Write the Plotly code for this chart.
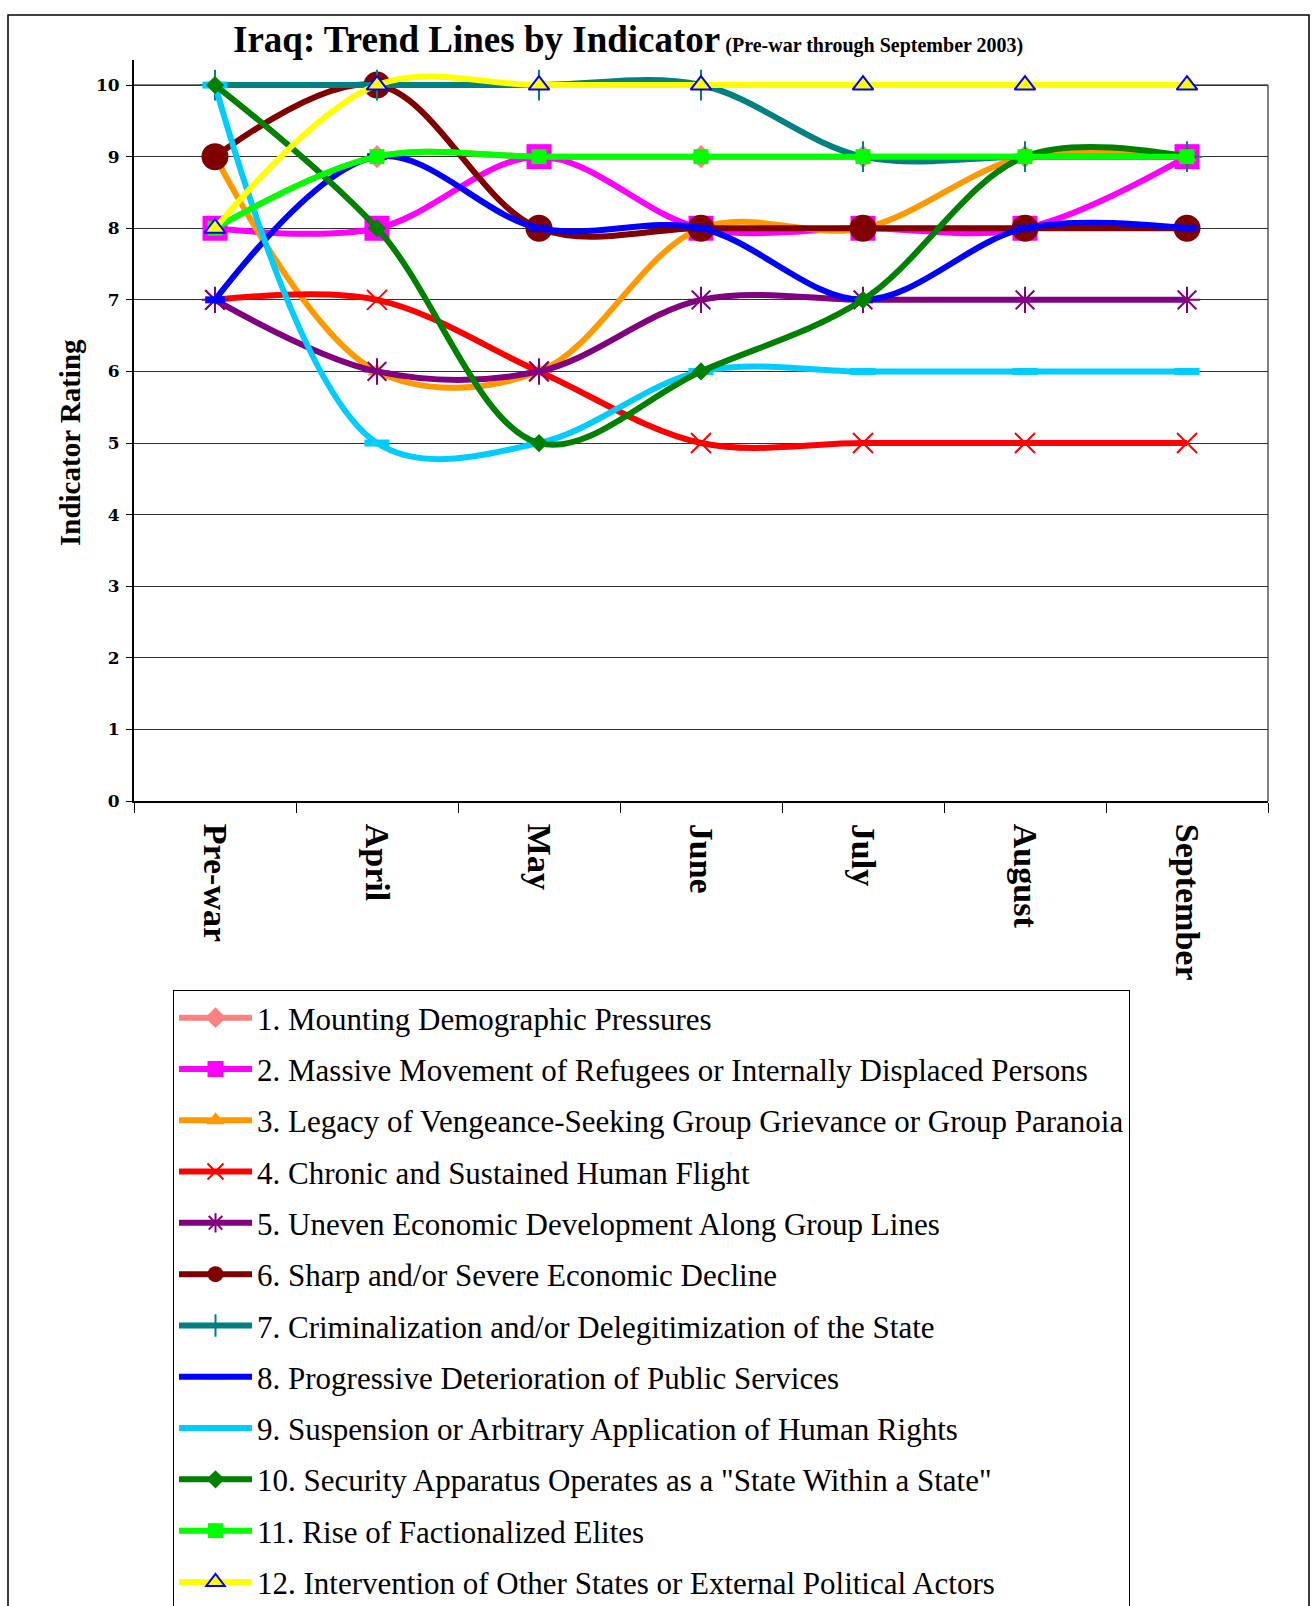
import plotly.graph_objects as go

months = ["Pre-war", "April", "May", "June", "July", "August", "September"]

names = [
    "1. Mounting Demographic Pressures",
    "2. Massive Movement of Refugees or Internally Displaced Persons",
    "3. Legacy of Vengeance-Seeking Group Grievance or Group Paranoia",
    "4. Chronic and Sustained Human Flight",
    "5. Uneven Economic Development Along Group Lines",
    "6. Sharp and/or Severe Economic Decline",
    "7. Criminalization and/or Delegitimization of the State",
    "8. Progressive Deterioration of Public Services",
    "9. Suspension or Arbitrary Application of Human Rights",
    "10. Security Apparatus Operates as a \"State Within a State\"",
    "11. Rise of Factionalized Elites",
    "12. Intervention of Other States or External Political Actors",
]

s1 = [8, 9, 9, 9, 9, 9, 9]
s2 = [8, 8, 9, 8, 8, 8, 9]
s3 = [9, 6, 6, 8, 8, 9, 9]
s4 = [7, 7, 6, 5, 5, 5, 5]
s5 = [7, 6, 6, 7, 7, 7, 7]
s6 = [9, 10, 8, 8, 8, 8, 8]
s7 = [10, 10, 10, 10, 9, 9, 9]
s8 = [7, 9, 8, 8, 7, 8, 8]
s9 = [10, 5, 5, 6, 6, 6, 6]
s10 = [10, 8, 5, 6, 7, 9, 9]
s11 = [8, 9, 9, 9, 9, 9, 9]
s12 = [8, 10, 10, 10, 10, 10, 10]

series = [s1, s2, s3, s4, s5, s6, s7, s8, s9, s10, s11, s12]

colors = ["#FF8080", "#FF00FF", "#FF9900", "#FF0000", "#800080", "#800000",
          "#008080", "#0000FF", "#00CCFF", "#008000", "#00FF00", "#FFFF00"]

markers = [
    dict(symbol="diamond", size=18, color="#FF8080"),
    dict(symbol="square", size=25, color="#FF00FF"),
    dict(symbol="triangle-up", size=16, color="#FF9900"),
    dict(symbol="x-thin", size=20, color="#FF0000", line=dict(color="#FF0000", width=2)),
    dict(symbol="asterisk", size=22, color="#800080", line=dict(color="#800080", width=2)),
    dict(symbol="circle", size=27, color="#800000"),
    dict(symbol="cross-thin", size=22, color="#008080", line=dict(color="#008080", width=2)),
    dict(symbol="line-ew", size=14, color="#0000FF", line=dict(color="#0000FF", width=7)),
    dict(symbol="line-ew", size=18, color="#00CCFF", line=dict(color="#00CCFF", width=7)),
    dict(symbol="diamond", size=14, color="#008000"),
    dict(symbol="square", size=15, color="#00FF00"),
    dict(symbol="triangle-up", size=18, color="#FFFF00", line=dict(color="#0000FF", width=2)),
]

fig = go.Figure()
for i, (nm, ys, c, mk) in enumerate(zip(names, series, colors, markers)):
    fig.add_trace(go.Scatter(
        x=months, y=ys, name=nm, mode="lines+markers",
        line=dict(color=c, width=6, shape="spline", smoothing=1),
        marker=mk, cliponaxis=False, legendgroup=str(i),
    ))

# page body margin is removed by post_script, so figure coords = page coords
W, H = 1312, 1606
L = 134
R = W - 1268
T = 60
B = H - 801
ph = H - T - B
def py(px):
    return (801 - px) / ph
def pxx(px):
    return (px - 134) / (1268 - 134)

fig.update_layout(
    width=W, height=H,
    margin=dict(l=L, r=R, t=T, b=B, autoexpand=False),
    paper_bgcolor="white", plot_bgcolor="white",
    showlegend=True,
    legend=dict(
        x=pxx(173), y=py(990), xanchor="left", yanchor="top",
        bordercolor="black", borderwidth=1,
        font=dict(family="Liberation Serif", size=31, color="black"),
        tracegroupgap=8, itemwidth=73, traceorder="grouped",
    ),
    xaxis=dict(
        type="category", range=[-0.5, 6.5], tickson="boundaries",
        ticks="outside", ticklen=10, tickcolor="black", tickwidth=1,
        showline=True, linecolor="black", linewidth=2,
        showgrid=False, tickangle=90, ticklabelstandoff=14,
        tickfont=dict(family="Liberation Serif", size=34, color="black", weight="bold"),
    ),
    yaxis=dict(
        range=[0, 10.35], tickvals=list(range(0, 11)),
        ticks="outside", ticklen=6, tickcolor="black",
        showline=True, linecolor="black", linewidth=2,
        showgrid=True, gridcolor="#303030", gridwidth=1, zeroline=False,
        ticklabelstandoff=3,
        tickfont=dict(family="DejaVu Serif", size=17, color="black", weight="bold"),
    ),
    shapes=[
        dict(type="line", xref="paper", yref="y", x0=0, x1=1, y0=10, y1=10,
             line=dict(color="#808080", width=2), layer="below"),
        dict(type="line", xref="paper", yref="y", x0=1, x1=1, y0=0, y1=10,
             line=dict(color="#808080", width=2), layer="below"),
        dict(type="rect", xref="paper", yref="paper",
             x0=pxx(8), x1=pxx(1309), y0=py(1700), y1=py(15),
             line=dict(color="black", width=1.5), layer="below"),
    ],
    annotations=[
        dict(xref="paper", yref="paper", x=pxx(231), y=py(62), xanchor="left", yanchor="bottom",
             showarrow=False,
             text="<b>Iraq: Trend Lines by Indicator</b><b><span style='font-size:20px'> (Pre-war through September 2003)</span></b>",
             font=dict(family="Liberation Serif", size=37, color="black")),
        dict(xref="paper", yref="paper", x=pxx(70), y=py(443), xanchor="center", yanchor="middle",
             showarrow=False, textangle=-90, text="<b>Indicator Rating</b>",
             font=dict(family="Liberation Serif", size=29, color="black")),
    ],
)

fig.write_html(
    "out.html",
    config={"displayModeBar": False},
    post_script="document.body.style.margin='0';document.body.style.overflow='hidden';",
)
